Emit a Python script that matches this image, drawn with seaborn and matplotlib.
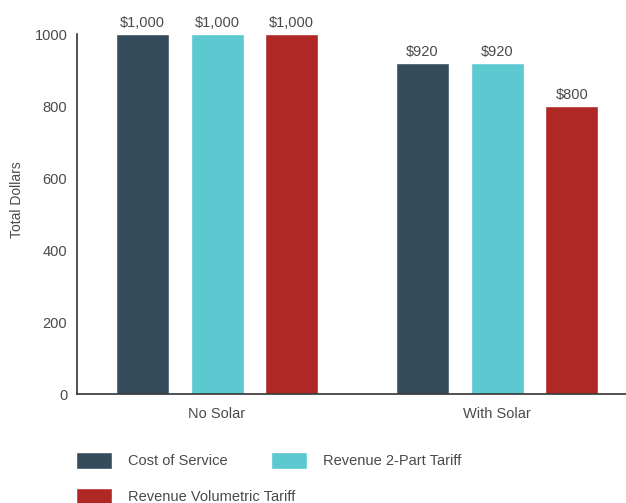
import matplotlib
matplotlib.use("Agg")
import matplotlib.pyplot as plt
import seaborn as sns
import pandas as pd

categories = ["No Solar", "With Solar"]
series_names = ["Cost of Service", "Revenue 2-Part Tariff", "Revenue Volumetric Tariff"]
cost_of_service = [1000, 920]
revenue_two_part = [1000, 920]
revenue_volumetric = [1000, 800]
colors = ["#354C5C", "#5CC8D0", "#AF2826"]
y_ticks = [0, 200, 400, 600, 800, 1000]

sns.set_style("white")
plt.rcParams["font.family"] = ["Liberation Sans", "DejaVu Sans"]

rows = []
for name, vals in zip(series_names, [cost_of_service, revenue_two_part, revenue_volumetric]):
    for c, v in zip(categories, vals):
        rows.append({"Category": c, "Series": name, "Value": v})
df = pd.DataFrame(rows)

fig = plt.figure(figsize=(6.26, 5.03), dpi=100)
ax = fig.add_axes([77/626, 1-394/503, 1-77/626, (394-34)/503])

sns.barplot(data=df, x="Category", y="Value", hue="Series", order=categories,
            hue_order=series_names, palette=colors, width=0.8, gap=0.29,
            saturation=1, ax=ax, legend=True)

txt = "#4a4a4a"
for cont in ax.containers:
    ax.bar_label(cont, labels=[f"${v:,.0f}" for v in cont.datavalues],
                 padding=3, fontsize=10.5, color=txt)

ax.set_ylim(0, 1000)
ax.set_yticks(y_ticks)
ax.set_xlim(-0.5, 1.46)
ax.set_xlabel("")
ax.set_ylabel("Total Dollars", fontsize=10, color=txt)
ax.yaxis.set_label_coords(-0.0965, 0.539)
ax.tick_params(axis="y", length=0, pad=7, labelsize=10.5, labelcolor=txt)
ax.tick_params(axis="x", length=0, pad=9, labelsize=10.5, labelcolor=txt)
for s in ["top", "right"]:
    ax.spines[s].set_visible(False)
for s in ["left", "bottom"]:
    ax.spines[s].set_color("#333333")
    ax.spines[s].set_linewidth(1.2)

handles, labels = ax.get_legend_handles_labels()
ax.get_legend().remove()
leg_kw = dict(loc="upper left", ncol=2, frameon=False, fontsize=10.5, labelcolor=txt,
              handlelength=2.45, handleheight=1.4, handletextpad=1.1,
              columnspacing=3.0, borderpad=0, borderaxespad=0)
fig.legend(handles[:2], labels[:2], bbox_to_anchor=(76/626, 1-452/503), **leg_kw)
fig.legend(handles[2:], labels[2:], bbox_to_anchor=(76/626, 1-488/503), **leg_kw)

fig.savefig("out.png", dpi=100)
